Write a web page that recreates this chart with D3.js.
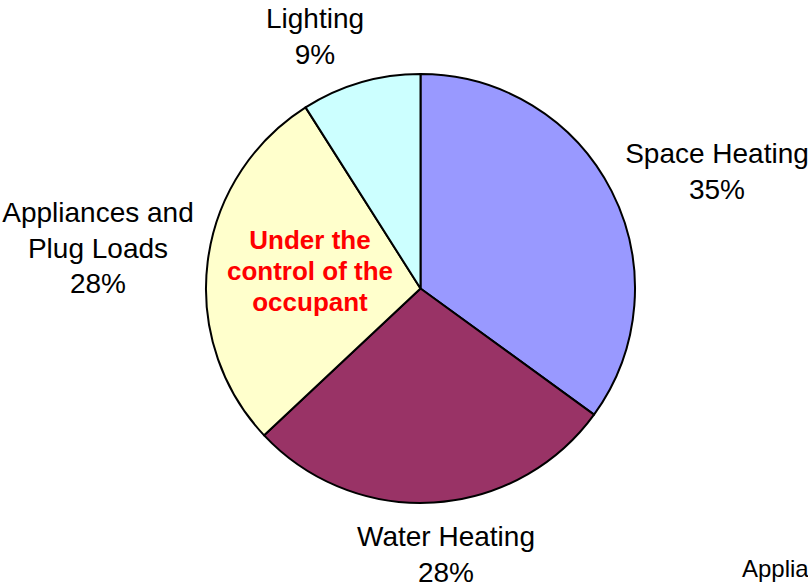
<!DOCTYPE html>
<html>
<head>
<meta charset="utf-8">
<script src="https://cdn.jsdelivr.net/npm/d3@7"></script>
<style>
  html, body { margin: 0; padding: 0; background: #fff; }
  svg { display: block; font-family: "Liberation Sans", Arial, sans-serif; }
</style>
</head>
<body>
<svg id="chart" width="808" height="584"></svg>
<script>
// slices, clockwise from 12 o'clock
var categories = ["Space Heating", "Water Heating", "Appliances and Plug Loads", "Lighting"];
var values = [35, 28, 28, 9];
var colors = ["#9999FF", "#993366", "#FFFFCC", "#CCFFFF"];

// label lines (name lines + percent)
var labelLines = [
	["Space Heating", "35%"],
	["Water Heating", "28%"],
	["Appliances and", "Plug Loads", "28%"],
	["Lighting", "9%"]
];
var noteLines = ["Under the", "control of the", "occupant"];

var width = 808, height = 584;
var cx = 420.5, cy = 288.5, radius = 214.5;

var svg = d3.select("#chart");

var pie = d3.pie().sort(null).value(function(d){ return d; });
var arc = d3.arc().innerRadius(0).outerRadius(radius);

var g = svg.append("g").attr("transform", "translate(" + cx + "," + cy + ")");

var arcs = pie(values);

g.selectAll("path.slice")
	.data(arcs)
  .enter().append("path")
	.attr("class", "slice")
	.attr("d", arc)
	.attr("fill", function(d, i){ return colors[i]; })
	.attr("stroke", "#000")
	.attr("stroke-width", 2)
	.attr("stroke-linejoin", "round");

// label anchor positions (first baseline)
var labelPos = [
	{x: 717, y: 163},
	{x: 446, y: 546},
	{x: 98, y: 222},
	{x: 315, y: 28}
];
var lineGap = 35.5;

labelLines.forEach(function(lines, i){
	var t = svg.append("text")
		.attr("x", labelPos[i].x)
		.attr("y", labelPos[i].y)
		.attr("text-anchor", "middle")
		.attr("font-size", 28)
		.attr("fill", "#000");
	lines.forEach(function(l, j){
		t.append("tspan")
			.attr("x", labelPos[i].x)
			.attr("dy", j === 0 ? 0 : lineGap)
			.text(l);
	});
});

// red note inside the appliances slice
var note = svg.append("text")
	.attr("x", 310)
	.attr("y", 249)
	.attr("text-anchor", "middle")
	.attr("font-size", 26)
	.attr("font-weight", "bold")
	.attr("fill", "#FF0000");
noteLines.forEach(function(l, j){
	note.append("tspan")
		.attr("x", 310)
		.attr("dy", j === 0 ? 0 : 31)
		.text(l);
});

// clipped text from a neighbouring chart at the bottom right
svg.append("text")
	.attr("x", 742)
	.attr("y", 577)
	.attr("font-size", 24)
	.attr("fill", "#000")
	.text("Appliances");
</script>
</body>
</html>
